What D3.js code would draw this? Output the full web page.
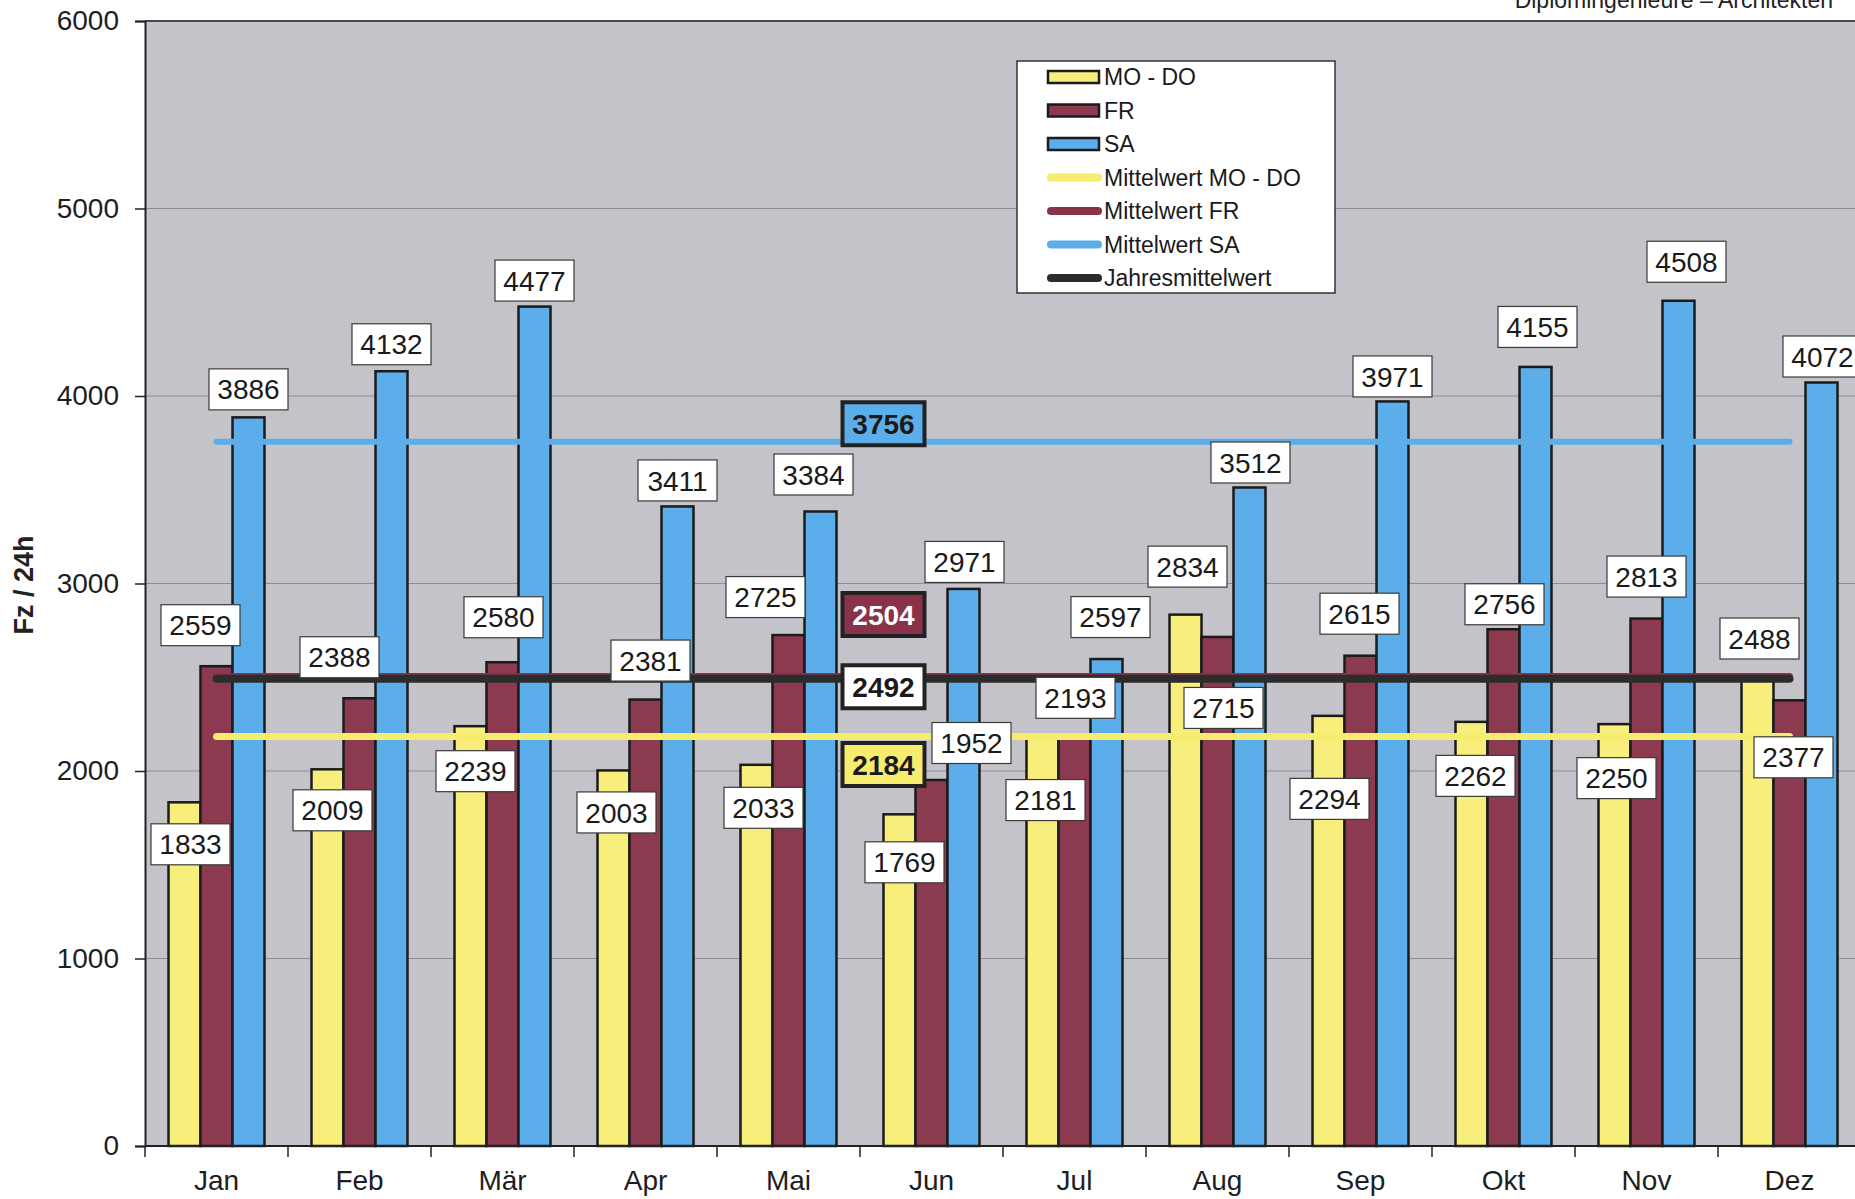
<!DOCTYPE html>
<html lang="de">
<head>
<meta charset="utf-8">
<title>Fz / 24h Monatswerte</title>
<script type="text/javascript" src="https://cdn.jsdelivr.net/npm/d3@7"></script>
<style type="text/css">
  body { margin: 0; background: #fff; }
  svg { display: block; font-family: "Liberation Sans", Arial, sans-serif; }
</style>
</head>
<body>
<script type="text/javascript">

// Data
var months = ["Jan", "Feb", "Mär", "Apr", "Mai", "Jun", "Jul", "Aug", "Sep", "Okt", "Nov", "Dez"];
var moDo = [1833, 2009, 2239, 2003, 2033, 1769, 2181, 2834, 2294, 2262, 2250, 2488];
var fr   = [2559, 2388, 2580, 2381, 2725, 1952, 2193, 2715, 2615, 2756, 2813, 2377];
var sa   = [3886, 4132, 4477, 3411, 3384, 2971, 2597, 3512, 3971, 4155, 4508, 4072];
var seriesNames = ["MO - DO", "FR", "SA"];
var meanNames = ["Mittelwert MO - DO", "Mittelwert FR", "Mittelwert SA", "Jahresmittelwert"];
var meanValues = [2184, 2504, 3756, 2492];
var yTicks = [0, 1000, 2000, 3000, 4000, 5000, 6000];

// label nudges (px) from bar top, per series, as the labels were moved by hand
var nudgeMoDo = [[6,42],[5,41],[5,45],[3,42],[7,43],[5,48],[3,63],[2,-48],[1,83],[4,54],[2,54],[2,-41]];
var nudgeFr   = [[-16,-41],[-20,-41],[1,-45],[5,-39],[-23,-38],[40,-37],[1,-37],[6,71],[-1,-42],[1,-25],[0,-42],[4,57]];
var nudgeSa   = [[0,-28],[0,-27],[0,-26],[0,-26],[-7,-37],[1,-27],[4,-42],[1,-25],[0,-25],[2,-40],[8,-39],[1,-26]];
// mean label offset from the line (px)
var meanNudge = [28, -62, -18, 8];

var barColors = ["#f8ee7b", "#8c3a4f", "#5caeea"];
var meanColors = ["#f6ec6e", "#8a3249", "#5caeea", "#2b2d2d"];

var w = 1855, h = 1199;
var padLeft = 145, plotTop = 21, plotBottom = 1146;
var catW = 143;

var svg = d3.select("body").append("svg")
    .attr("width", w)
    .attr("height", h);

//Scales
var xScale = d3.scaleBand()
    .domain(months)
    .range([padLeft, padLeft + catW * months.length])
    .padding(0);

var subScale = d3.scaleBand()
    .domain(seriesNames)
    .range([23.5, catW - 23.5])
    .padding(0);

var yScale = d3.scaleLinear()
    .domain([0, 6000])
    .range([plotBottom, plotTop]);

// plot area
svg.append("rect")
    .attr("x", padLeft)
    .attr("y", plotTop)
    .attr("width", catW * months.length)
    .attr("height", plotBottom - plotTop)
    .attr("fill", "#c5c3ca");

// gridlines
svg.selectAll("line.grid")
    .data(yTicks.slice(1, 6))
    .enter()
    .append("line")
    .attr("class", "grid")
    .attr("x1", padLeft)
    .attr("x2", w)
    .attr("y1", function(d) { return yScale(d); })
    .attr("y2", function(d) { return yScale(d); })
    .attr("stroke", "#8e8d95")
    .attr("stroke-width", 1);

svg.append("line")
    .attr("x1", padLeft).attr("x2", w)
    .attr("y1", yScale(6000)).attr("y2", yScale(6000))
    .attr("stroke", "#4a4a4e")
    .attr("stroke-width", 2);

// y axis
var yAxis = d3.axisLeft(yScale)
    .tickValues(yTicks)
    .tickFormat(d3.format("d"))
    .tickSize(10)
    .tickPadding(16);

var gy = svg.append("g")
    .attr("transform", "translate(" + padLeft + ",0)")
    .call(yAxis);
gy.select(".domain").attr("stroke", "#222").attr("stroke-width", 2);
gy.selectAll(".tick line").attr("stroke", "#222").attr("stroke-width", 1.5);
gy.selectAll(".tick text")
    .attr("font-size", "28px")
    .attr("font-family", "Liberation Sans, Arial, sans-serif")
    .attr("fill", "#1e1e1e");

// y title
svg.append("text")
    .attr("transform", "translate(33,585) rotate(-90)")
    .attr("text-anchor", "middle")
    .attr("font-size", "27px")
    .attr("font-weight", "bold")
    .attr("fill", "#222")
    .text("Fz / 24h");

// Bars
var series = [moDo, fr, sa];
var nudges = [nudgeMoDo, nudgeFr, nudgeSa];

series.forEach(function(vals, s) {
    svg.selectAll("rect.s" + s)
        .data(vals)
        .enter()
        .append("rect")
        .attr("class", "s" + s)
        .attr("x", function(d, i) { return xScale(months[i]) + subScale(seriesNames[s]); })
        .attr("y", function(d) { return yScale(d); })
        .attr("width", subScale.bandwidth())
        .attr("height", function(d) { return yScale(0) - yScale(d); })
        .attr("fill", barColors[s])
        .attr("stroke", "#1b1b1b")
        .attr("stroke-width", 2.5);
});

// x axis
svg.append("line")
    .attr("x1", padLeft).attr("x2", w)
    .attr("y1", plotBottom).attr("y2", plotBottom)
    .attr("stroke", "#222")
    .attr("stroke-width", 2);

svg.selectAll("line.xtick")
    .data(months)
    .enter()
    .append("line")
    .attr("class", "xtick")
    .attr("x1", function(d) { return xScale(d); })
    .attr("x2", function(d) { return xScale(d); })
    .attr("y1", plotBottom)
    .attr("y2", plotBottom + 11)
    .attr("stroke", "#222")
    .attr("stroke-width", 1.5);

svg.selectAll("text.xlabel")
    .data(months)
    .enter()
    .append("text")
    .attr("class", "xlabel")
    .attr("x", function(d) { return xScale(d) + xScale.bandwidth() / 2; })
    .attr("y", 1190)
    .attr("text-anchor", "middle")
    .attr("font-size", "28px")
    .attr("fill", "#1e1e1e")
    .text(function(d) { return d; });

// Mean lines (drawn over bars)
var meanLine = d3.line()
    .x(function(d) { return xScale(d.m) + xScale.bandwidth() / 2; })
    .y(function(d) { return yScale(d.v); });

var lineOrder = [2, 1, 3, 0];
var lineWidths = [7, 7, 6, 8];
lineOrder.forEach(function(k) {
    var pts = [{ m: months[0], v: meanValues[k] }, { m: months[months.length - 1], v: meanValues[k] }];
    svg.append("path")
        .attr("d", meanLine(pts))
        .attr("fill", "none")
        .attr("stroke", meanColors[k])
        .attr("stroke-width", lineWidths[k])
        .attr("stroke-linecap", "round");
});

// Data labels
series.forEach(function(vals, s) {
    var g = svg.selectAll("g.lab" + s)
        .data(vals)
        .enter()
        .append("g")
        .attr("class", "lab" + s)
        .attr("transform", function(d, i) {
            var cx = xScale(months[i]) + subScale(seriesNames[s]) + subScale.bandwidth() / 2 + nudges[s][i][0];
            var cy = yScale(d) + nudges[s][i][1];
            return "translate(" + cx + "," + cy + ")";
        });
    g.append("rect")
        .attr("x", -39.5)
        .attr("y", -20.5)
        .attr("width", 79)
        .attr("height", 41)
        .attr("fill", "#fff")
        .attr("stroke", "#3a3a3a")
        .attr("stroke-width", 1.2);
    g.append("text")
        .attr("text-anchor", "middle")
        .attr("dy", "0.36em")
        .attr("font-size", "28px")
        .attr("fill", "#1a1a1a")
        .text(function(d) { return d; });
});

// Mean labels, placed at Jun
var meanFill = ["#f6ec6e", "#8a3249", "#5caeea", "#ffffff"];
var meanText = ["#1a1a1a", "#ffffff", "#1a1a1a", "#1a1a1a"];
meanValues.forEach(function(v, k) {
    var g = svg.append("g")
        .attr("transform", "translate(" + (xScale("Jun") + xScale.bandwidth() / 2 - 48) + "," + (yScale(v) + meanNudge[k]) + ")");
    g.append("rect")
        .attr("x", -41)
        .attr("y", -21.5)
        .attr("width", 82)
        .attr("height", 43)
        .attr("fill", meanFill[k])
        .attr("stroke", "#222")
        .attr("stroke-width", 4);
    g.append("text")
        .attr("text-anchor", "middle")
        .attr("dy", "0.36em")
        .attr("font-size", "28px")
        .attr("font-weight", "bold")
        .attr("fill", meanText[k])
        .text(v);
});

// Legend
var legend = svg.append("g").attr("transform", "translate(1017,61)");
legend.append("rect")
    .attr("width", 318)
    .attr("height", 232)
    .attr("fill", "#fff")
    .attr("stroke", "#333")
    .attr("stroke-width", 1.5);

var legItems = seriesNames.concat(meanNames);
var rows = legend.selectAll("g.row")
    .data(legItems)
    .enter()
    .append("g")
    .attr("class", "row")
    .attr("transform", function(d, i) { return "translate(0," + (16 + i * 33.5) + ")"; });

rows.each(function(d, i) {
    var r = d3.select(this);
    if (i < 3) {
        r.append("rect")
            .attr("x", 31).attr("y", -6)
            .attr("width", 51).attr("height", 12)
            .attr("fill", barColors[i])
            .attr("stroke", "#1b1b1b")
            .attr("stroke-width", 2.5);
    } else {
        r.append("line")
            .attr("x1", 34).attr("x2", 81)
            .attr("y1", 0).attr("y2", 0)
            .attr("stroke", meanColors[i - 3])
            .attr("stroke-width", 8)
            .attr("stroke-linecap", "round");
    }
    r.append("text")
        .attr("x", 87)
        .attr("dy", "0.35em")
        .attr("font-size", "23px")
        .attr("fill", "#1a1a1a")
        .text(d);
});

// header fragment, cut off at the top of the page (as in the scan)
svg.append("text")
    .attr("x", 1833)
    .attr("y", 8)
    .attr("text-anchor", "end")
    .attr("font-size", "23px")
    .attr("fill", "#222")
    .text("Diplomingenieure \u2013 Architekten");

</script>
</body>
</html>
